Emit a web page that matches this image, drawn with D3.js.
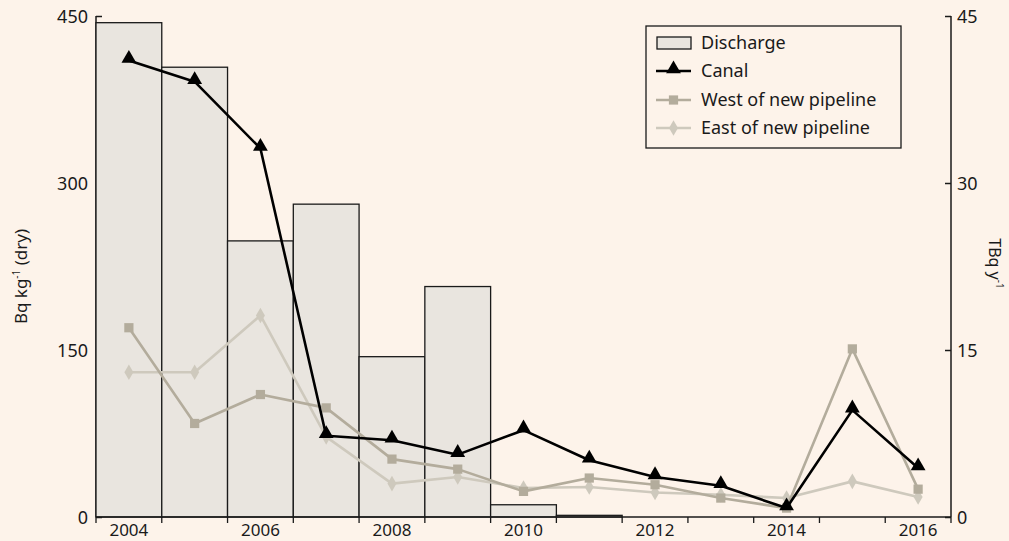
<!DOCTYPE html>
<html>
<head>
<meta charset="utf-8">
<script src="https://cdn.jsdelivr.net/npm/d3@7"></script>
<style>
  html, body { margin: 0; padding: 0; background: #fdf3ea; }
  svg { display: block; font-family: "Noto Sans", "Open Sans", sans-serif; }
</style>
</head>
<body>
<svg id="chart" width="1009" height="541"></svg>
<script>
// Annual values, 2004–2016
const years = ["2004","2005","2006","2007","2008","2009","2010","2011","2012","2013","2014","2015","2016"];
// Discharge, TBq per year (right axis)
const discharge = [44.4, 40.4, 24.8, 28.1, 14.4, 20.7, 1.1, 0.15, 0, 0, 0, 0, 0];
// Sediment activity, Bq/kg dry weight (left axis)
const canal = [410, 391, 331, 73, 69, 56, 78, 51, 36, 28, 8, 96, 44];
const westPipeline = [170, 84, 110, 98, 52, 43, 23, 35, 29, 17, 8, 151, 25];
const eastPipeline = [130, 130, 181, 72, 30, 36, 26, 27, 22, 20, 17, 32, 18];
const leftTicks = [0, 150, 300, 450];
const rightTicks = [0, 15, 30, 45];
const xTickLabels = ["2004","2006","2008","2010","2012","2014","2016"];

const svg = d3.select("#chart");
const plotLeft = 96, plotRight = 951, plotTop = 16, plotBottom = 517;

const x = d3.scaleBand().domain(years).range([plotLeft, plotRight]).padding(0);
const yL = d3.scaleLinear().domain([0, 450]).range([plotBottom, plotTop]);
const yR = d3.scaleLinear().domain([0, 45]).range([plotBottom, plotTop]);

const ink = "#1a1a1a";
const fontSize = 18;

// Left axis, ticks pointing inward (they sit behind the bars)
const gL = svg.append("g").attr("transform", `translate(${plotLeft},0)`)
  .call(d3.axisRight(yL).tickValues(leftTicks).tickSize(6).tickFormat(() => ""));
gL.selectAll("path, line").attr("stroke", ink).attr("stroke-width", 1.5);
gL.select(".domain").attr("d", `M0,${plotTop}V${plotBottom}`);
svg.append("g").selectAll("text").data(leftTicks).join("text")
  .attr("x", plotLeft - 8).attr("y", d => yL(d)).attr("dy", "0.38em")
  .attr("text-anchor", "end").attr("font-size", fontSize).attr("fill", ink)
  .text(d => d);

// Discharge bars
svg.append("g").selectAll("rect").data(years.map((yr, i) => ({yr, v: discharge[i]})).filter(d => d.v > 0))
  .join("rect")
  .attr("x", d => x(d.yr)).attr("width", x.bandwidth())
  .attr("y", d => yR(d.v)).attr("height", d => yR(0) - yR(d.v))
  .attr("fill", "#e9e5df").attr("stroke", ink).attr("stroke-width", 1.3);

// Bottom axis: ticks at band boundaries, labels on even years
const boundaries = d3.range(years.length + 1).map(i => plotLeft + i * x.step());
const gB = svg.append("g");
gB.append("line").attr("x1", plotLeft).attr("x2", plotRight).attr("y1", plotBottom).attr("y2", plotBottom)
  .attr("stroke", ink).attr("stroke-width", 1.5);
gB.selectAll("line.tick").data(boundaries).join("line").attr("class", "tick")
  .attr("x1", d => d).attr("x2", d => d).attr("y1", plotBottom).attr("y2", plotBottom + 6)
  .attr("stroke", ink).attr("stroke-width", 1.3);
gB.selectAll("text").data(xTickLabels).join("text")
  .attr("x", d => x(d) + x.bandwidth() / 2).attr("y", plotBottom + 19)
  .attr("text-anchor", "middle").attr("font-size", 17).attr("fill", ink)
  .text(d => d);

// Right axis, ticks pointing inward
const gR = svg.append("g").attr("transform", `translate(${plotRight},0)`)
  .call(d3.axisLeft(yR).tickValues(rightTicks).tickSize(6).tickFormat(() => ""));
gR.selectAll("path, line").attr("stroke", ink).attr("stroke-width", 1.5);
gR.select(".domain").attr("d", `M0,${plotTop}V${plotBottom}`);
svg.append("g").selectAll("text").data(rightTicks).join("text")
  .attr("x", plotRight + 6).attr("y", d => yR(d)).attr("dy", "0.38em")
  .attr("text-anchor", "start").attr("font-size", fontSize).attr("fill", ink)
  .text(d => d);

// Axis titles
const tL = svg.append("text").attr("transform", `translate(27,${(plotTop + plotBottom) / 2 + 10}) rotate(-90)`)
  .attr("text-anchor", "middle").attr("font-size", 17).attr("fill", ink);
tL.append("tspan").text("Bq kg");
tL.append("tspan").attr("font-size", 10).attr("dy", -7).text("-1");
tL.append("tspan").attr("dy", 7).text(" (dry)");

const tR = svg.append("text").attr("transform", `translate(989,${(plotTop + plotBottom) / 2 - 3}) rotate(90)`)
  .attr("text-anchor", "middle").attr("font-size", 16).attr("fill", ink);
tR.append("tspan").text("TBq y");
tR.append("tspan").attr("font-size", 10).attr("dy", -7).text("-1");

// Series definitions
const cx = yr => x(yr) + x.bandwidth() / 2;
const series = [
  {name: "East of new pipeline", values: eastPipeline, color: "#cec9bd", width: 2.6, symbol: d3.symbolDiamond, size: 70},
  {name: "West of new pipeline", values: westPipeline, color: "#b3ac9c", width: 2.6, symbol: d3.symbolSquare, size: 85},
  {name: "Canal", values: canal, color: "#000000", width: 2.6, symbol: d3.symbolTriangle, size: 95}
];

const line = d3.line().x(d => cx(d.yr)).y(d => yL(d.v));
series.forEach(s => {
  const pts = years.map((yr, i) => ({yr, v: s.values[i]}));
  const g = svg.append("g");
  g.append("path").datum(pts).attr("d", line)
    .attr("fill", "none").attr("stroke", s.color).attr("stroke-width", s.width)
    .attr("stroke-linejoin", "round");
  g.selectAll("path.pt").data(pts).join("path").attr("class", "pt")
    .attr("transform", d => `translate(${cx(d.yr)},${yL(d.v) - (s.symbol === d3.symbolTriangle ? 2 : 0)})`)
    .attr("d", d3.symbol(s.symbol, s.size))
    .attr("fill", s.color);
});

// Legend
const lg = svg.append("g");
lg.append("rect").attr("x", 646).attr("y", 26).attr("width", 255).attr("height", 122)
  .attr("fill", "none").attr("stroke", ink).attr("stroke-width", 1.3);
const rowY = [43, 71, 100, 128];
lg.append("rect").attr("x", 657).attr("y", 37).attr("width", 34).attr("height", 12)
  .attr("fill", "#e9e5df").attr("stroke", ink).attr("stroke-width", 1.3);
lg.append("text").attr("x", 701).attr("y", rowY[0]).attr("dy", "0.36em")
  .attr("font-size", fontSize).attr("fill", ink).text("Discharge");
const legendSeries = [series[2], series[1], series[0]];
legendSeries.forEach((s, i) => {
  const yy = rowY[i + 1];
  lg.append("line").attr("x1", 656).attr("x2", 691).attr("y1", yy).attr("y2", yy)
    .attr("stroke", s.color).attr("stroke-width", s.width);
  lg.append("path").attr("transform", `translate(673.5,${yy - (s.symbol === d3.symbolTriangle ? 2 : 0)})`)
    .attr("d", d3.symbol(s.symbol, s.size)).attr("fill", s.color);
  lg.append("text").attr("x", 701).attr("y", yy).attr("dy", "0.36em")
    .attr("font-size", fontSize).attr("fill", ink).text(s.name);
});
</script>
</body>
</html>
